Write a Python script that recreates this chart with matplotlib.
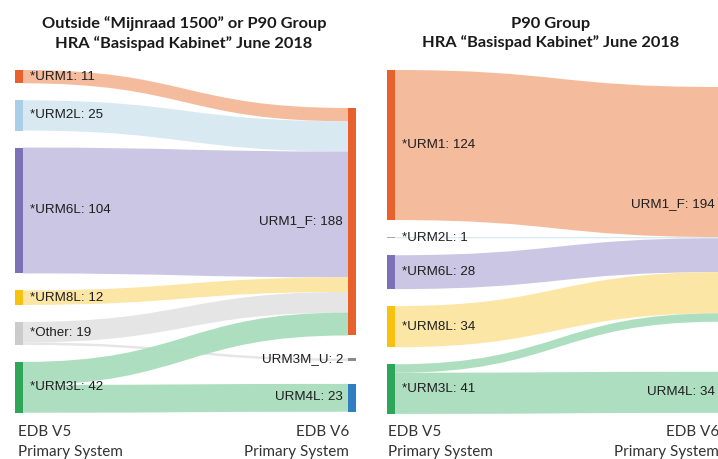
import matplotlib
matplotlib.use("Agg")
import matplotlib.pyplot as plt
from matplotlib.path import Path
from matplotlib.patches import PathPatch, Rectangle

# EDB V5 -> EDB V6 primary system counts
left_sources = ["*URM1", "*URM2L", "*URM6L", "*URM8L", "*Other", "*URM3L"]
left_targets = ["URM1_F", "URM3M_U", "URM4L"]
left_links = [
    ("*URM1", "URM1_F", 11),
    ("*URM2L", "URM1_F", 25),
    ("*URM6L", "URM1_F", 104),
    ("*URM8L", "URM1_F", 12),
    ("*Other", "URM1_F", 17),
    ("*Other", "URM3M_U", 2),
    ("*URM3L", "URM1_F", 19),
    ("*URM3L", "URM4L", 23),
]

right_sources = ["*URM1", "*URM2L", "*URM6L", "*URM8L", "*URM3L"]
right_targets = ["URM1_F", "URM4L"]
right_links = [
    ("*URM1", "URM1_F", 124),
    ("*URM2L", "URM1_F", 1),
    ("*URM6L", "URM1_F", 28),
    ("*URM8L", "URM1_F", 34),
    ("*URM3L", "URM1_F", 7),
    ("*URM3L", "URM4L", 34),
]

left_title = "Outside \u201cMijnraad 1500\u201d or P90 Group\nHRA \u201cBasispad Kabinet\u201d June 2018"
right_title = "P90 Group\nHRA \u201cBasispad Kabinet\u201d June 2018"

node_colors = {
    "*URM1": "#E8612C", "*URM2L": "#A9CFE6", "*URM6L": "#7C70B6",
    "*URM8L": "#F6C20F", "*Other": "#CBCBCB", "*URM3L": "#2EA65A",
    "URM1_F": "#E8612C", "URM3M_U": "#8A8A8A", "URM4L": "#2F7FC3",
}
flow_colors = {
    "*URM1": "#F4B898", "*URM2L": "#D6E8F2", "*URM6L": "#C8C3E2",
    "*URM8L": "#FCE5A0", "*Other": "#E4E4E4", "*URM3L": "#A9DDBD",
}

LABEL_FONT = "Liberation Sans"
HEAD_FONT = "Lato"
SCALE = 1.21  # pixels per system


def node_spans(names, totals, top, gap):
    spans = {}
    y = top
    for n in names:
        h = totals[n] * SCALE
        spans[n] = [y, y + h]
        y += h + gap
    return spans


def ribbon(x0, x1, y0a, y0b, y1a, y1b):
    xm = (x0 + x1) / 2
    verts = [(x0, y0a), (xm, y0a), (xm, y1a), (x1, y1a),
             (x1, y1b), (xm, y1b), (xm, y0b), (x0, y0b), (x0, y0a)]
    codes = [Path.MOVETO, Path.CURVE4, Path.CURVE4, Path.CURVE4,
             Path.LINETO, Path.CURVE4, Path.CURVE4, Path.CURVE4, Path.CLOSEPOLY]
    return Path(verts, codes)


def draw_sankey(ax, sources, targets, links, lay, node_col):
    src_tot = {s: sum(v for a, b, v in links if a == s) for s in sources}
    tgt_tot = {t: sum(v for a, b, v in links if b == t) for t in targets}
    src_pos = node_spans(sources, src_tot, lay["src_top"], lay["src_gap"])
    tgt_pos = node_spans(targets, tgt_tot, lay["tgt_top"], lay["tgt_gap"])

    bw = lay["bar_w"]
    xs, xt = lay["x_src"], lay["x_tgt"]

    # links leave a source in target order and enter a target in source order
    src_off = {s: src_pos[s][0] for s in sources}
    tgt_off = {t: tgt_pos[t][0] for t in targets}
    ordered = sorted(links, key=lambda l: (sources.index(l[0]), targets.index(l[1])))
    for s, t, v in ordered:
        h = v * SCALE
        y0 = src_off[s]
        src_off[s] += h
        y1 = tgt_off[t]
        tgt_off[t] += h
        ax.add_patch(PathPatch(ribbon(xs + bw, xt, y0, y0 + h, y1, y1 + h),
                               facecolor=flow_colors[s], edgecolor="none",
                               alpha=0.95, zorder=1))

    for s in sources:
        a, b = src_pos[s]
        ax.add_patch(Rectangle((xs, a), bw, max(b - a, 1.4),
                               facecolor=node_col[s], edgecolor="none", zorder=3))
        ax.text(xs + bw + 7, (a + b) / 2, f"{s}: {src_tot[s]}", ha="left",
                va="center", fontsize=9.6, family=LABEL_FONT, color="#1e1e1e",
                zorder=4)
    for t in targets:
        a, b = tgt_pos[t]
        ax.add_patch(Rectangle((xt, a), bw, max(b - a, 1.6),
                               facecolor=node_col[t], edgecolor="none", zorder=3))
        ax.text(xt - 5, (a + b) / 2 - 0.5, f"{t}: {tgt_tot[t]}", ha="right",
                va="center", fontsize=9.6, family=LABEL_FONT, color="#1e1e1e",
                zorder=4)


fig = plt.figure(figsize=(7.18, 4.59), dpi=100)
ax = fig.add_axes([0, 0, 1, 1])
ax.set_xlim(0, 718)
ax.set_ylim(459, 0)
ax.axis("off")

left_layout = dict(x_src=15, x_tgt=348, bar_w=8, src_top=70, src_gap=17,
                   tgt_top=108, tgt_gap=23)
right_layout = dict(x_src=387, x_tgt=720, bar_w=8, src_top=70, src_gap=17,
                    tgt_top=87, tgt_gap=50)

right_node_colors = dict(node_colors)
right_node_colors["*URM2L"] = "#A8A8A8"

draw_sankey(ax, left_sources, left_targets, left_links, left_layout, node_colors)
draw_sankey(ax, right_sources, right_targets, right_links, right_layout,
            right_node_colors)

# panel headings
ax.text(184, 33.5, left_title, ha="center", va="center", fontsize=11.8,
        family=HEAD_FONT, weight="bold", color="#1a1a1a", linespacing=1.35)
ax.text(551, 33.5, right_title, ha="center", va="center", fontsize=11.8,
        family=HEAD_FONT, weight="bold", color="#1a1a1a", linespacing=1.35)

# column footers
for x_left, x_right in [(18, 349), (388, 719)]:
    ax.text(x_left, 442, "EDB V5\nPrimary System", ha="left", va="center",
            fontsize=11, family=HEAD_FONT, color="#333333", linespacing=1.55)
    ax.text(x_right, 442, "EDB V6\nPrimary System", ha="right", va="center",
            fontsize=11, family=HEAD_FONT, color="#333333", linespacing=1.55,
            multialignment="right")

fig.savefig("out.png", dpi=100)
